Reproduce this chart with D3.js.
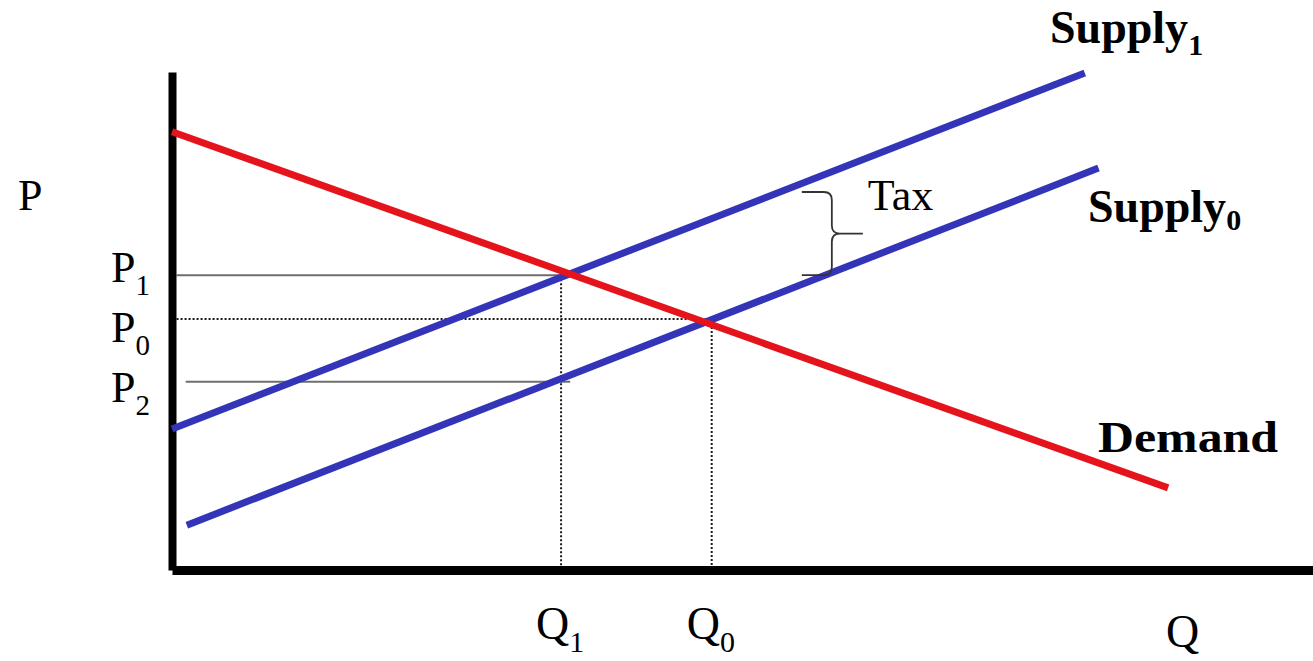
<!DOCTYPE html>
<html>
<head>
<meta charset="utf-8">
<script src="https://cdn.jsdelivr.net/npm/d3@7"></script>
<style>
  html, body { margin: 0; padding: 0; background: #fff; }
  svg { display: block; }
  text { font-family: "Liberation Serif", "Times New Roman", serif; fill: #000; }
</style>
</head>
<body>
<div id="chart"></div>
<script>
// curves as [quantity, price] end points
const demand = [[0, 8.80], [8.73, 1.65]];
const supply0 = [[0.13, 0.90], [8.12, 8.07]];
const supply1 = [[0, 2.83], [8.00, 9.98]];

// equilibrium prices and quantities
const priceNames = ['1', '0', '2'];
const priceValues = [5.92, 5.04, 3.78];
const priceGuideStart = [0.04, 0.04, 0.12];
const priceGuideEnd = [3.42, 4.73, 3.49];

const quantityNames = ['1', '0'];
const quantityValues = [3.41, 4.73];
const quantityGuideTop = [5.92, 5.04];

// tax brace between the two supply curves
const taxQuantity = [5.52];
const taxPrices = [7.59, 5.92];

const width = 1313,
    height = 661;

const x = d3.scaleLinear().domain([0, 10]).range([172, 1313]);
const y = d3.scaleLinear().domain([0, 10]).range([570, 72]);

const svg = d3.select('#chart')
    .append('svg')
    .attr('width', width)
    .attr('height', height);

const line = d3.line()
    .x(d => x(d[0]))
    .y(d => y(d[1]));

// guide lines for prices
priceValues.forEach((p, i) => {
    const dotted = priceNames[i] === '0';
    svg.append('line')
        .attr('x1', x(priceGuideStart[i]))
        .attr('x2', x(priceGuideEnd[i]))
        .attr('y1', y(p))
        .attr('y2', y(p))
        .style('stroke', dotted ? '#1a1a1a' : '#6e6e6e')
        .style('stroke-width', 2)
        .style('stroke-dasharray', dotted ? '2,2' : null);
});

// guide lines for quantities
quantityValues.forEach((q, i) => {
    svg.append('line')
        .attr('x1', x(q))
        .attr('x2', x(q))
        .attr('y1', y(quantityGuideTop[i]))
        .attr('y2', y(0))
        .style('stroke', '#1a1a1a')
        .style('stroke-width', 2)
        .style('stroke-dasharray', '2,2');
});

// axes, no ticks
svg.append('g')
    .attr('transform', `translate(0,${y(0)})`)
    .call(d3.axisBottom(x).tickValues([]).tickSizeOuter(0))
    .select('.domain')
    .style('stroke', '#000')
    .style('stroke-width', 9);

svg.append('g')
    .attr('transform', `translate(${x(0)},0)`)
    .call(d3.axisLeft(y).tickValues([]).tickSizeOuter(0))
    .select('.domain')
    .style('stroke', '#000')
    .style('stroke-width', 8);

// supply and demand curves
[supply1, supply0].forEach(s => {
    svg.append('path')
        .datum(s)
        .attr('d', line)
        .style('fill', 'none')
        .style('stroke', '#3434b8')
        .style('stroke-width', 7);
});

svg.append('path')
    .datum(demand)
    .attr('d', line)
    .style('fill', 'none')
    .style('stroke', '#e5141c')
    .style('stroke-width', 7);

// tax brace
const L = x(taxQuantity[0]),
    S = L + 30,
    T = L + 61,
    Y1 = y(taxPrices[0]),
    Y2 = y(taxPrices[1]),
    M = (Y1 + Y2) / 2,
    r = 8;

svg.append('path')
    .attr('d', `M${L},${Y1} H${S - r} Q${S},${Y1} ${S},${Y1 + r} V${M - r} Q${S},${M} ${S + r},${M} H${T}` +
        ` M${S + r},${M} Q${S},${M} ${S},${M + r} V${Y2 - r} Q${S},${Y2} ${S - r},${Y2} H${L}`)
    .style('fill', 'none')
    .style('stroke', '#333')
    .style('stroke-width', 1.8);

svg.append('text')
    .attr('x', T + 5)
    .attr('y', 210)
    .style('font-size', '44px')
    .text('Tax');

// axis names
svg.append('text')
    .attr('x', 18)
    .attr('y', 210)
    .style('font-size', '44px')
    .text('P');

svg.append('text')
    .attr('x', 1166)
    .attr('y', 647)
    .style('font-size', '46px')
    .text('Q');

// P labels
const priceLabelY = [282, 342, 402];
priceNames.forEach((n, i) => {
    const t = svg.append('text')
        .attr('x', 111)
        .attr('y', priceLabelY[i])
        .style('font-size', '44px');
    t.append('tspan').text('P');
    t.append('tspan').attr('dy', 13).style('font-size', '29px').text(n);
});

// Q labels
quantityValues.forEach((q, i) => {
    const t = svg.append('text')
        .attr('x', x(q) - 25)
        .attr('y', 639)
        .style('font-size', '46px');
    t.append('tspan').text('Q');
    t.append('tspan').attr('dy', 13).style('font-size', '30px').text(quantityNames[i]);
});

// curve labels
function supplyLabel(name, lx, ly, sub) {
    const t = svg.append('text')
        .attr('x', lx)
        .attr('y', ly)
        .style('font-size', '46px')
        .style('font-weight', 'bold');
    t.append('tspan').text('Supply');
    t.append('tspan').attr('dy', sub).style('font-size', '30px').text(name);
}
supplyLabel('1', 1050, 43, 12);
supplyLabel('0', 1088, 222, 8);

svg.append('text')
    .attr('x', 1098)
    .attr('y', 452)
    .attr('textLength', 180)
    .attr('lengthAdjust', 'spacingAndGlyphs')
    .style('font-size', '44px')
    .style('font-weight', 'bold')
    .text('Demand');
</script>
</body>
</html>
